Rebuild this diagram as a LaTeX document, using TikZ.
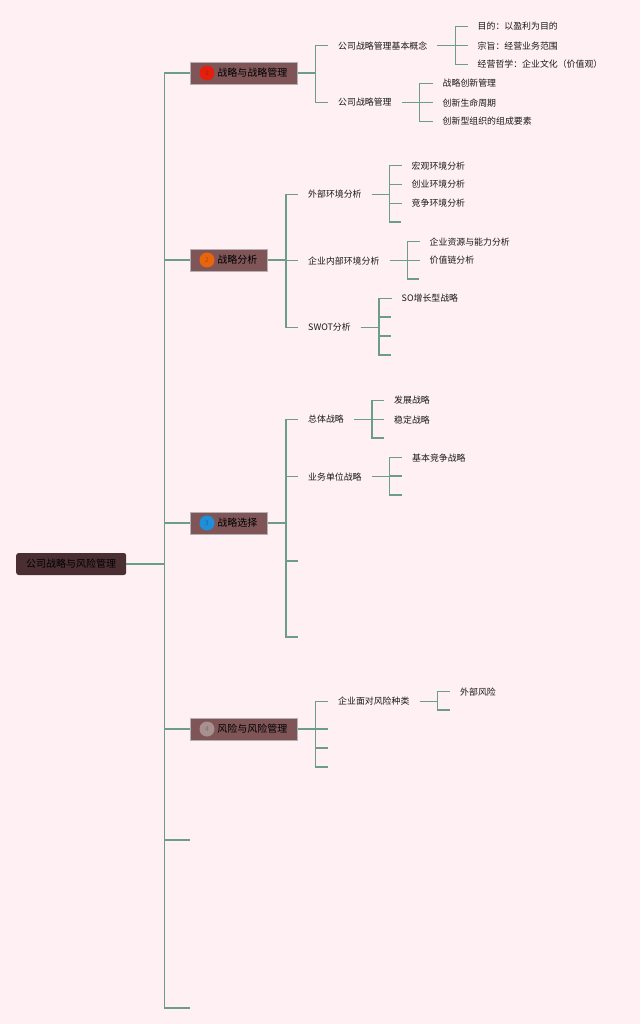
\documentclass[tikz,border=0pt]{standalone}
\usepackage{fontspec}
\setmainfont{Noto Sans CJK SC}
\definecolor{bgc}{HTML}{FEF0F3}
\definecolor{linec}{HTML}{6A9E88}
\definecolor{topc}{HTML}{7F5558}
\definecolor{rootc}{HTML}{4A2E32}
\definecolor{bred}{HTML}{E3200F}
\definecolor{borange}{HTML}{E8650C}
\definecolor{bblue}{HTML}{1F8FD8}
\definecolor{bgray}{HTML}{A89090}
\tikzset{
  conn/.style={draw=linec,line width=1.1pt,line join=miter},
  rootbox/.style={fill=rootc,rounded corners=2.5pt,anchor=west,inner xsep=10pt,inner ysep=0pt,minimum height=22pt,font=\fontsize{10}{12}\selectfont,text=black},
  topbox/.style={fill=topc,draw=gray!60,line width=0.5pt,anchor=west,inner sep=0pt,minimum height=22pt,font=\fontsize{10}{12}\selectfont,text=black},
  badge/.style={circle,inner sep=0pt,minimum size=15pt,font=\fontsize{6.5}{8}\selectfont},
  leaf/.style={anchor=west,inner ysep=0pt,inner xsep=10pt,font=\fontsize{8.9}{10}\selectfont,text=black!90,yshift=-0.6pt},
}
\newcommand{\branch}[3]{\draw[conn] (#1.east) -- ++(#2,0) |- (#3);}
\newcommand{\topnode}[5]{%
  \node[topbox] (#1) at (190,#2) {\kern27pt\raisebox{-0.8pt}{#3}\kern10pt};
  \node[badge,fill=#4,text=#4!75!black] (#1b) at (207,#2) {#5};
}
\begin{document}
\begin{tikzpicture}[x=1pt,y=-1pt]
\fill[bgc] (0,0) rectangle (640,1024);
\useasboundingbox (0,0) rectangle (640,1024);

% root and first level
\node[rootbox] (root) at (16,564) {\raisebox{-0.8pt}{公司战略与风险管理}};
\topnode{a}{73}{战略与战略管理}{bred}{1}
\topnode{b}{260}{战略分析}{borange}{2}
\topnode{c}{523}{战略选择}{bblue}{3}
\topnode{d}{729}{风险与风险管理}{bgray}{4}
\coordinate (e) at (190,840);
\coordinate (f) at (190,1008);
\foreach \t in {a.west,b.west,c.west,d.west,e,f} {\branch{root}{38}{\t}}

% a
\node[leaf] (a1) at (328,45) {公司战略管理基本概念};
\node[leaf] (a2) at (328,102) {公司战略管理};
\foreach \t in {a1,a2} {\branch{a}{18}{\t.west}}
\node[leaf] (a11) at (467.5,26) {目的：以盈利为目的};
\node[leaf] (a12) at (467.5,45) {宗旨：经营业务范围};
\node[leaf] (a13) at (467.5,64) {经营哲学：企业文化（价值观）};
\foreach \t in {a11,a12,a13} {\branch{a1}{18}{\t.west}}
\node[leaf] (a21) at (432.5,83) {战略创新管理};
\node[leaf] (a22) at (432.5,102) {创新生命周期};
\node[leaf] (a23) at (432.5,121) {创新型组织的组成要素};
\foreach \t in {a21,a22,a23} {\branch{a2}{18}{\t.west}}

% b
\node[leaf] (b1) at (298,193.5) {外部环境分析};
\node[leaf] (b2) at (298,260) {企业内部环境分析};
\node[leaf] (b3) at (298,327) {SWOT分析};
\foreach \t in {b1,b2,b3} {\branch{b}{18.5}{\t.west}}
\node[leaf] (b11) at (401.5,165) {宏观环境分析};
\node[leaf] (b12) at (401.5,184) {创业环境分析};
\node[leaf] (b13) at (401.5,203) {竞争环境分析};
\coordinate (b14) at (401,222);
\foreach \t in {b11.west,b12.west,b13.west,b14} {\branch{b1}{18}{\t}}
\node[leaf] (b21) at (419.5,241) {企业资源与能力分析};
\node[leaf] (b22) at (419.5,260) {价值链分析};
\coordinate (b23) at (419,279);
\foreach \t in {b21.west,b22.west,b23} {\branch{b2}{18}{\t}}
\node[leaf] (b31) at (391.5,298) {SO增长型战略};
\coordinate (b32) at (391,317);
\coordinate (b33) at (391,336);
\coordinate (b34) at (391,355);
\foreach \t in {b31.west,b32,b33,b34} {\branch{b3}{18}{\t}}

% c
\node[leaf] (c1) at (298,419) {总体战略};
\node[leaf] (c2) at (298,476) {业务单位战略};
\coordinate (c3) at (298,561);
\coordinate (c4) at (298,637);
\foreach \t in {c1.west,c2.west,c3,c4} {\branch{c}{18.5}{\t}}
\node[leaf] (c11) at (384,400) {发展战略};
\node[leaf] (c12) at (384,419) {稳定战略};
\coordinate (c13) at (384,438);
\foreach \t in {c11.west,c12.west,c13} {\branch{c1}{18}{\t}}
\node[leaf] (c21) at (402,457) {基本竞争战略};
\coordinate (c22) at (402,476);
\coordinate (c23) at (402,495);
\foreach \t in {c21.west,c22,c23} {\branch{c2}{18}{\t}}

% d
\node[leaf] (d1) at (328,700.5) {企业面对风险种类};
\coordinate (d2) at (328,729);
\coordinate (d3) at (328,748);
\coordinate (d4) at (328,767);
\foreach \t in {d1.west,d2,d3,d4} {\branch{d}{18}{\t}}
\node[leaf] (d11) at (450,691) {外部风险};
\coordinate (d12) at (450,710);
\foreach \t in {d11.west,d12} {\branch{d1}{18}{\t}}
\end{tikzpicture}
\end{document}
